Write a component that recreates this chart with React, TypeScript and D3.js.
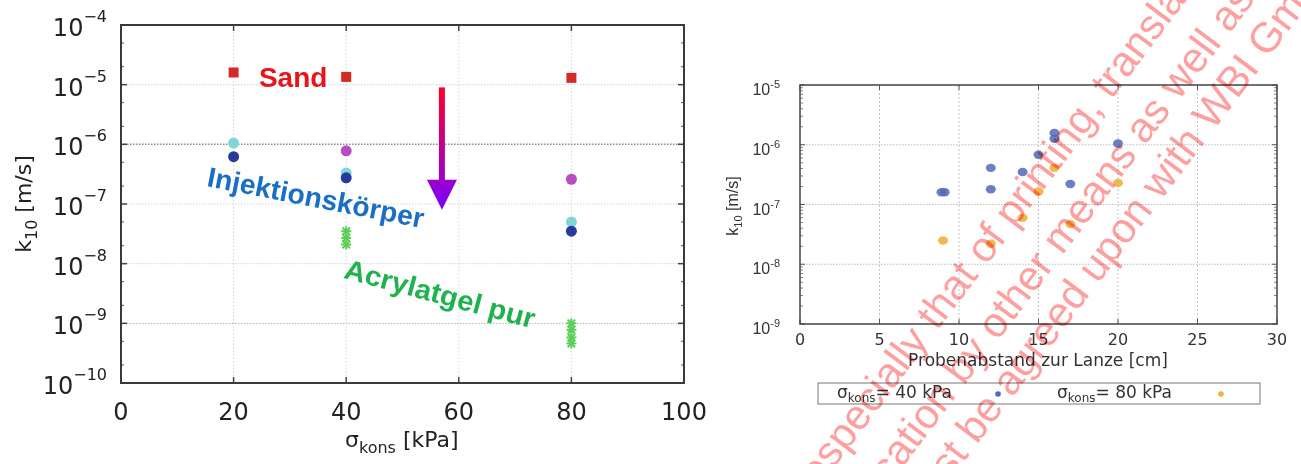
import React, { useEffect } from 'react';
import * as d3 from 'd3';

// ---------- data: left chart ----------
const leftXTicks = [0, 20, 40, 60, 80, 100];
const leftYExps = [-4, -5, -6, -7, -8, -9, -10];
const sandX = [20, 40, 80];
const sandK = [1.6e-5, 1.35e-5, 1.3e-5];
const cyanX = [20, 40, 80];
const cyanK = [1.05e-6, 3.3e-7, 5e-8];
const navyX = [20, 40, 80];
const navyK = [6.2e-7, 2.75e-7, 3.5e-8];
const magentaX = [40, 80];
const magentaK = [7.8e-7, 2.6e-7];
const acrylX = [40, 40, 40, 80, 80, 80, 80];
const acrylK = [3.5e-8, 2.7e-8, 2.1e-8, 1.0e-9, 7.8e-10, 5.8e-10, 4.6e-10];
const annotations = ['Sand', 'Injektionskörper', 'Acrylatgel pur'];

// ---------- data: right chart ----------
const rightXTicks = [0, 5, 10, 15, 20, 25, 30];
const rightYExps = [-5, -6, -7, -8, -9];
const k40X = [8.9, 9.1, 12, 12, 14, 15, 16, 16, 17, 20];
const k40K = [1.6e-7, 1.6e-7, 4.1e-7, 1.8e-7, 3.5e-7, 6.8e-7, 1.58e-6, 1.26e-6, 2.2e-7, 1.05e-6];
const k80X = [9, 12, 14, 15, 16, 17, 20];
const k80K = [2.5e-8, 2.2e-8, 6e-8, 1.65e-7, 4.1e-7, 4.7e-8, 2.3e-7];
const legendLabels = ['= 40 kPa', '= 80 kPa'];
const watermarkLines = [
  'especially that of printing, translation',
  'duplication by other means as well as',
  'must be agreed upon with WBI GmbH',
];

const DJ = '"DejaVu Sans", sans-serif';
const LS = '"Liberation Sans", Arial, sans-serif';

function minorVals(exps: number[], mults: number[]) {
  const out: number[] = [];
  const lo = Math.min(...exps), hi = Math.max(...exps);
  for (let e = lo; e < hi; e++) for (const m of mults) out.push(m * Math.pow(10, e));
  return out;
}

const Star = ({ x, y, c }: { x: number; y: number; c: string }) => {
  const s = 5;
  return (
    <g stroke={c} strokeWidth={2}>
      <line x1={x - s} y1={y} x2={x + s} y2={y} />
      <line x1={x} y1={y - s} x2={x} y2={y + s} />
      <line x1={x - s * 0.75} y1={y - s * 0.75} x2={x + s * 0.75} y2={y + s * 0.75} />
      <line x1={x - s * 0.75} y1={y + s * 0.75} x2={x + s * 0.75} y2={y - s * 0.75} />
    </g>
  );
};

export default function App() {
  useEffect(() => {
    document.body.style.margin = '0';
  }, []);

  // left scales
  const xL = d3.scaleLinear().domain([0, 100]).range([121, 684]);
  const yL = d3.scaleLog().domain([1e-10, 1e-4]).range([383, 25]);
  const leftMinor = minorVals(leftYExps, [2, 5]);

  // right scales
  const xR = d3.scaleLinear().domain([0, 30]).range([800, 1277]);
  const yR = d3.scaleLog().domain([1e-9, 1e-5]).range([324, 85]);
  const rightMinor = minorVals(rightYExps, [2, 3, 4, 5, 6, 7, 8, 9]);

  // arrow (data units)
  const arrowX = xL(57);
  const arrowTop = yL(9e-6);
  const arrowTip = yL(8e-8);
  const headLen = 30;

  const wmAngle = -53;
  const wmStarts = [
    [819, 488],
    [836, 556],
    [915, 527],
  ];

  return (
    <svg width={1301} height={464} style={{ position: 'absolute', left: 0, top: 0, background: '#fff' }}>
      <defs>
        <clipPath id="leftClip">
          <rect x={0} y={0} width={706} height={464} />
        </clipPath>
        <linearGradient id="arrGrad" gradientUnits="userSpaceOnUse" x1={0} y1={arrowTop} x2={0} y2={arrowTip}>
          <stop offset="0" stopColor="#ff0028" />
          <stop offset="1" stopColor="#7a00ff" />
        </linearGradient>
      </defs>
      <rect x={0} y={0} width={1301} height={464} fill="#fff" />

      {/* ================= LEFT CHART ================= */}
      <g clipPath="url(#leftClip)">
        {leftXTicks.filter(t => t > 0 && t < 100).map(t => (
          <line key={'gx' + t} x1={xL(t)} x2={xL(t)} y1={yL(1e-4)} y2={yL(1e-10)} stroke="#d6d6d6" strokeWidth={1} strokeDasharray="1.5,2" />
        ))}
        {leftYExps.filter(e => e > -10 && e < -4).map(e => (
          <line key={'gy' + e} x1={xL(0)} x2={xL(100)} y1={yL(Math.pow(10, e))} y2={yL(Math.pow(10, e))}
            stroke={e === -6 ? '#8a8a8a' : e === -9 ? '#b0b0b0' : '#d4d4d4'} strokeWidth={e === -6 ? 1.5 : 1} strokeDasharray="1.5,1.5" />
        ))}
        {leftXTicks.map(t => (
          <g key={'tx' + t} stroke="#444" strokeWidth={1.5}>
            <line x1={xL(t)} x2={xL(t)} y1={yL(1e-10)} y2={yL(1e-10) - 6} />
            <line x1={xL(t)} x2={xL(t)} y1={yL(1e-4)} y2={yL(1e-4) + 6} />
          </g>
        ))}
        {leftYExps.map(e => (
          <g key={'ty' + e} stroke="#444" strokeWidth={1.5}>
            <line x1={xL(0)} x2={xL(0) + 6} y1={yL(Math.pow(10, e))} y2={yL(Math.pow(10, e))} />
            <line x1={xL(100)} x2={xL(100) - 6} y1={yL(Math.pow(10, e))} y2={yL(Math.pow(10, e))} />
          </g>
        ))}
        {leftMinor.map((v, i) => (
          <g key={'mn' + i} stroke="#555" strokeWidth={1}>
            <line x1={xL(0)} x2={xL(0) + 3} y1={yL(v)} y2={yL(v)} />
            <line x1={xL(100)} x2={xL(100) - 3} y1={yL(v)} y2={yL(v)} />
          </g>
        ))}
        <rect x={xL(0)} y={yL(1e-4)} width={xL(100) - xL(0)} height={yL(1e-10) - yL(1e-4)} fill="none" stroke="#3a3a3a" strokeWidth={2} />

        {leftYExps.map(e => (
          <text key={'ly' + e} x={107} y={yL(Math.pow(10, e)) + 11} textAnchor="end" fontFamily={DJ} fontSize={24} fill="#222">
            10<tspan dy={-14} fontSize={16}>{'−' + Math.abs(e)}</tspan>
          </text>
        ))}
        {leftXTicks.map(t => (
          <text key={'lx' + t} x={xL(t)} y={420} textAnchor="middle" fontFamily={DJ} fontSize={24} fill="#222">{t}</text>
        ))}
        <text x={345} y={447} fontFamily={DJ} fontSize={22} fill="#222">
          σ<tspan dy={6} fontSize={16}>kons</tspan><tspan dy={-6}> [kPa]</tspan>
        </text>
        <text transform="translate(31,204) rotate(-90)" textAnchor="middle" fontFamily={DJ} fontSize={22} fill="#222">
          k<tspan dy={6} fontSize={16}>10</tspan><tspan dy={-6}> [m/s]</tspan>
        </text>

        {sandX.map((x, i) => (
          <rect key={'s' + i} x={xL(x) - 5} y={yL(sandK[i]) - 5} width={10} height={10} fill="#d42b27" />
        ))}
        {cyanX.map((x, i) => (
          <circle key={'c' + i} cx={xL(x)} cy={yL(cyanK[i])} r={5.5} fill="#7fd6d4" />
        ))}
        {navyX.map((x, i) => (
          <circle key={'n' + i} cx={xL(x)} cy={yL(navyK[i])} r={5.5} fill="#27399a" />
        ))}
        {magentaX.map((x, i) => (
          <circle key={'m' + i} cx={xL(x)} cy={yL(magentaK[i])} r={5.5} fill="#b84cc0" />
        ))}
        {acrylX.map((x, i) => (
          <Star key={'a' + i} x={xL(x)} y={yL(acrylK[i])} c="#5ccd58" />
        ))}

        <text x={xL(24.5)} y={yL(9.1e-6)} fontFamily={LS} fontWeight="bold" fontSize={28} fill="#e8141c">{annotations[0]}</text>
        <text transform={`translate(${xL(15.1)},${yL(2.0e-7)}) rotate(11)`} fontFamily={LS} fontWeight="bold" fontSize={28}
          fill="#1a6fc4" textLength={220} lengthAdjust="spacingAndGlyphs">{annotations[1]}</text>
        <text transform={`translate(${xL(39.4)},${yL(5.8e-9)}) rotate(15)`} fontFamily={LS} fontWeight="bold" fontSize={28}
          fill="#1fb24e" textLength={196} lengthAdjust="spacingAndGlyphs">{annotations[2]}</text>

        <rect x={arrowX - 3} y={arrowTop} width={6} height={arrowTip - headLen - arrowTop + 1} fill="url(#arrGrad)" />
        <path d={`M${arrowX - 15},${arrowTip - headLen} L${arrowX + 15},${arrowTip - headLen} L${arrowX},${arrowTip} Z`} fill="url(#arrGrad)" />
      </g>

      {/* ================= RIGHT CHART ================= */}
      <g>
        {rightXTicks.filter(t => t > 0 && t < 30).map(t => (
          <line key={'rgx' + t} x1={xR(t)} x2={xR(t)} y1={yR(1e-5)} y2={yR(1e-9)} stroke="#c4c4c4" strokeWidth={1} strokeDasharray="2,2" />
        ))}
        {rightYExps.filter(e => e > -9 && e < -5).map(e => (
          <line key={'rgy' + e} x1={xR(0)} x2={xR(30)} y1={yR(Math.pow(10, e))} y2={yR(Math.pow(10, e))} stroke="#bdbdbd" strokeWidth={1} strokeDasharray="1.5,1.5" />
        ))}
        {rightXTicks.map(t => (
          <g key={'rtx' + t} stroke="#555" strokeWidth={1}>
            <line x1={xR(t)} x2={xR(t)} y1={yR(1e-9)} y2={yR(1e-9) - 5} />
            <line x1={xR(t)} x2={xR(t)} y1={yR(1e-5)} y2={yR(1e-5) + 5} />
          </g>
        ))}
        {rightYExps.map(e => (
          <g key={'rty' + e} stroke="#555" strokeWidth={1}>
            <line x1={xR(0)} x2={xR(0) + 5} y1={yR(Math.pow(10, e))} y2={yR(Math.pow(10, e))} />
            <line x1={xR(30)} x2={xR(30) - 5} y1={yR(Math.pow(10, e))} y2={yR(Math.pow(10, e))} />
          </g>
        ))}
        {rightMinor.map((v, i) => (
          <g key={'rmn' + i} stroke="#666" strokeWidth={0.8}>
            <line x1={xR(0)} x2={xR(0) + 3} y1={yR(v)} y2={yR(v)} />
            <line x1={xR(30)} x2={xR(30) - 3} y1={yR(v)} y2={yR(v)} />
          </g>
        ))}
        <rect x={xR(0)} y={yR(1e-5)} width={xR(30) - xR(0)} height={yR(1e-9) - yR(1e-5)} fill="none" stroke="#444" strokeWidth={1.5} />

        {rightYExps.map(e => (
          <text key={'rly' + e} x={780} y={yR(Math.pow(10, e)) + 10} textAnchor="end" fontFamily={LS} fontSize={16} fill="#333">
            10<tspan dy={-7} fontSize={11}>{'-' + Math.abs(e)}</tspan>
          </text>
        ))}
        {rightXTicks.map(t => (
          <text key={'rlx' + t} x={xR(t)} y={345} textAnchor="middle" fontFamily={DJ} fontSize={16} fill="#333">{t}</text>
        ))}
        <text x={1038} y={366} textAnchor="middle" fontFamily={DJ} fontSize={17} fill="#333">Probenabstand zur Lanze [cm]</text>
        <text transform="translate(738,206) rotate(-90)" textAnchor="middle" fontFamily={LS} fontSize={16} fill="#333">
          k<tspan dy={4} fontSize={11}>10</tspan><tspan dy={-4}> [m/s]</tspan>
        </text>

        {k80X.map((x, i) => (
          <ellipse key={'o' + i} cx={xR(x)} cy={yR(k80K[i])} rx={5} ry={4.2} fill="#f0b13f" fillOpacity={0.9} />
        ))}
        {k40X.map((x, i) => (
          <ellipse key={'b' + i} cx={xR(x)} cy={yR(k40K[i])} rx={5} ry={4.2} fill="#5468b8" fillOpacity={0.85} />
        ))}

        <rect x={818} y={383} width={442} height={21} fill="#fff" stroke="#777" strokeWidth={1} />
        <text x={837} y={398} fontFamily={DJ} fontSize={17} fill="#333">
          σ<tspan dy={4} fontSize={12}>kons</tspan><tspan dy={-4}>{legendLabels[0]}</tspan>
        </text>
        <circle cx={998} cy={394} r={2.8} fill="#5468b8" />
        <text x={1057} y={398} fontFamily={DJ} fontSize={17} fill="#333">
          σ<tspan dy={4} fontSize={12}>kons</tspan><tspan dy={-4}>{legendLabels[1]}</tspan>
        </text>
        <circle cx={1221} cy={394} r={2.8} fill="#f0b13f" />
      </g>

      {/* watermark */}
      <g style={{ mixBlendMode: 'multiply' }}>
        {watermarkLines.map((line, i) => (
          <text key={'wm' + i} transform={`translate(${wmStarts[i][0]},${wmStarts[i][1]}) rotate(${wmAngle})`}
            fontFamily={LS} fontSize={42} fill="#ff9595" fillOpacity={0.9}>{line}</text>
        ))}
      </g>
    </svg>
  );
}
